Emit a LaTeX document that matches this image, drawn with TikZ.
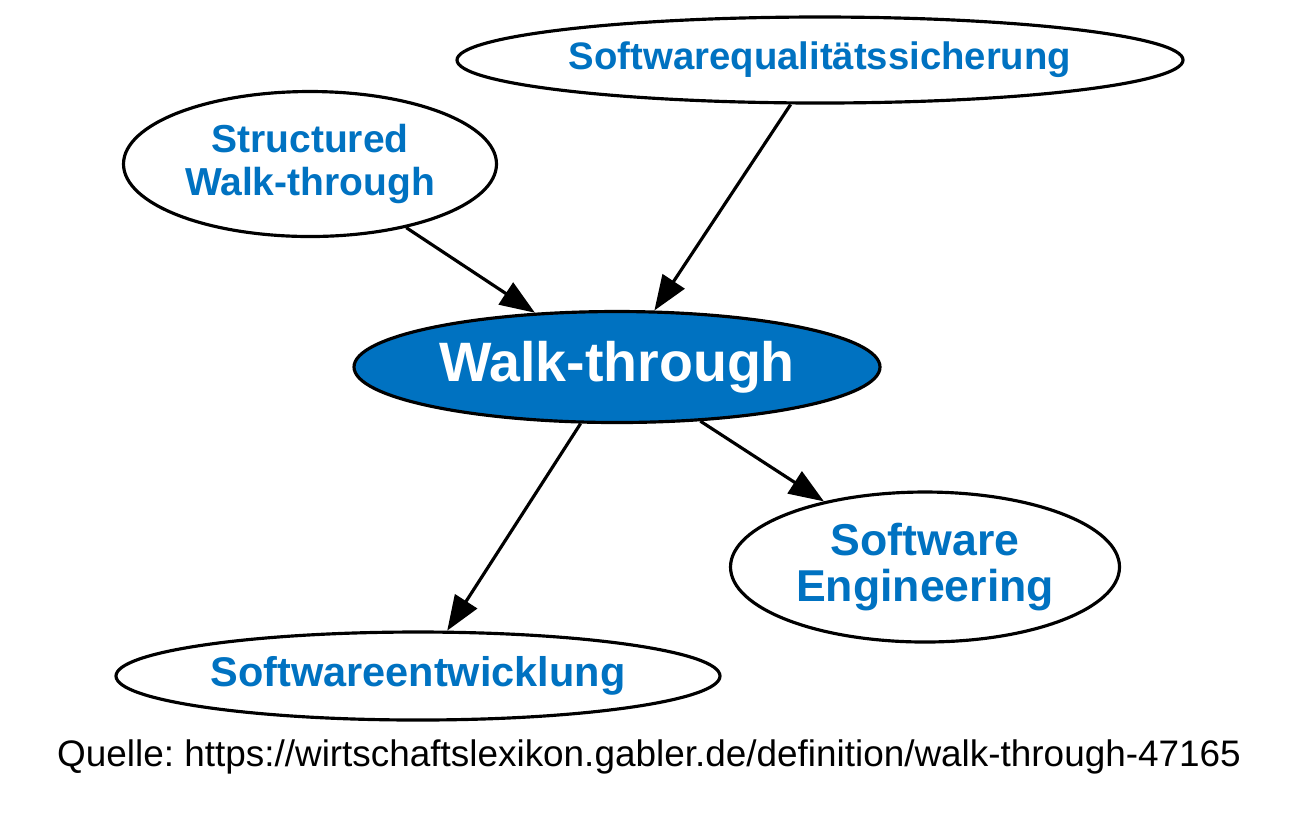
\documentclass[tikz,border=0pt]{standalone}
\usepackage{fontspec}
\setmainfont{Liberation Sans}
\frenchspacing
\usetikzlibrary{shapes.geometric}
\usetikzlibrary{arrows.meta}
\definecolor{gablerblue}{RGB}{0,114,193}

\begin{document}
\begin{tikzpicture}[
    topic/.style={ellipse, draw=black, line width=0.9pt, fill=white, inner sep=0pt, text=gablerblue, align=center},
    mainterm/.style={topic, fill=gablerblue, text=white, font=\fontsize{15.8}{19}\selectfont\bfseries},
    link/.style={-{Triangle[length=0.35cm, width=0.26cm]}, line width=0.9pt}
]
    \useasboundingbox (0,0) rectangle (13,-8.19);

    % nodes
    \node[mainterm, minimum width=5.26cm, minimum height=1.11cm] (walk) at (6.17,-3.67) {Walk-through};
    \node[topic, minimum width=7.26cm, minimum height=0.86cm, font=\fontsize{10.9}{12}\selectfont\bfseries] (sqs) at (8.20,-0.60) {Softwarequalitätssicherung};
    \node[topic, minimum width=3.73cm, minimum height=1.45cm, font=\fontsize{11.1}{12.2}\selectfont\bfseries] (swt) at (3.10,-1.64) {Structured\\Walk-through};
    \node[topic, minimum width=3.89cm, minimum height=1.50cm, font=\fontsize{12.7}{12.9}\selectfont\bfseries] (seng) at (9.25,-5.67) {Software\\Engineering};
    \node[topic, minimum width=6.04cm, minimum height=0.88cm, font=\fontsize{11.8}{13}\selectfont\bfseries] (sent) at (4.18,-6.76) {Softwareentwicklung};

    % links
    \draw[link] (swt) -- (walk);
    \draw[link] (sqs) -- (walk);
    \draw[link] (walk) -- (sent);
    \draw[link] (walk) -- (seng);

    \node[font=\fontsize{10.5}{12}\selectfont] (source) at (6.49,-7.57) {Quelle: https://wirtschaftslexikon.gabler.de/definition/walk-through-47165};
\end{tikzpicture}
\end{document}
